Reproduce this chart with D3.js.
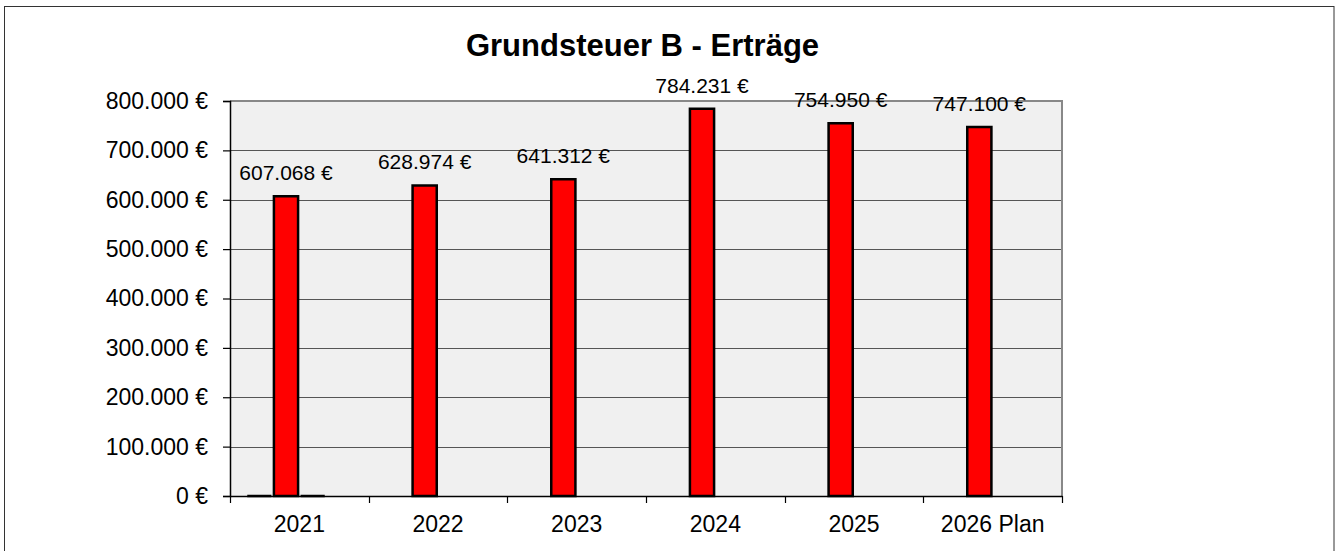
<!DOCTYPE html>
<html>
<head>
<meta charset="utf-8">
<script src="https://cdn.jsdelivr.net/npm/d3@7"></script>
<style>
  body { margin: 0; background: #fff; }
  text { font-family: "Liberation Sans", Arial, sans-serif; fill: #000; }
</style>
</head>
<body>
<div id="chart"></div>
<script>
const width = 1337;
const height = 551;
const plot = { left: 230, right: 1062, top: 101, bottom: 496 };

// data
const years = ["2021", "2022", "2023", "2024", "2025", "2026 Plan"];
const seriesKeys = ["vorjahr", "ertraege", "nebenwert", "leer"];
const ertraege = [607068, 628974, 641312, 784231, 754950, 747100];
const vorjahr = [0, null, null, null, null, null];
const nebenwert = [0, null, null, null, null, null];
const leer = [null, null, null, null, null, null];
const yTicks = [0, 100000, 200000, 300000, 400000, 500000, 600000, 700000, 800000];

const seriesData = { vorjahr, ertraege, nebenwert, leer };

const fmt = (v) => d3.format(",")(v).replace(/,/g, ".") + " €";

const svg = d3.select("#chart")
  .append("svg")
  .attr("width", width)
  .attr("height", height);

// outer frame
svg.append("rect")
  .attr("x", 4.5)
  .attr("y", 6.5)
  .attr("width", 1329.5)
  .attr("height", 560)
  .attr("fill", "#fff")
  .attr("stroke", "#333")
  .attr("stroke-width", 1);

// scales
const x = d3.scaleBand()
  .domain(years)
  .range([plot.left, plot.right])
  .padding(0);

const xInner = d3.scaleBand()
  .domain(seriesKeys)
  .range([0, x.bandwidth()])
  .paddingInner(0)
  .paddingOuter(0.6);

const y = d3.scaleLinear()
  .domain([0, 800000])
  .range([plot.bottom, plot.top]);

// plot background
svg.append("rect")
  .attr("x", plot.left)
  .attr("y", plot.top)
  .attr("width", plot.right - plot.left)
  .attr("height", plot.bottom - plot.top)
  .attr("fill", "#f0f0f0");

// gridlines
svg.append("g")
  .selectAll("line")
  .data(yTicks.slice(1, -1))
  .enter()
  .append("line")
  .attr("x1", plot.left)
  .attr("x2", plot.right)
  .attr("y1", (d) => Math.round(y(d)) + 0.5)
  .attr("y2", (d) => Math.round(y(d)) + 0.5)
  .attr("stroke", "#555")
  .attr("stroke-width", 1);

// plot border top/right
svg.append("path")
  .attr("d", `M${plot.left},${plot.top} H${plot.right} V${plot.bottom}`)
  .attr("fill", "none")
  .attr("stroke", "#888")
  .attr("stroke-width", 2);

// y axis
const yAxis = svg.append("g")
  .attr("transform", `translate(${plot.left},0)`)
  .call(d3.axisLeft(y).tickValues(yTicks).tickFormat(fmt).tickSize(7).tickPadding(15));
yAxis.select(".domain").attr("stroke", "#000").attr("stroke-width", 1.5);
yAxis.selectAll(".tick line").attr("stroke", "#000").attr("stroke-width", 1.2);
yAxis.selectAll("text")
  .style("font-size", "23px")
  .attr("fill", "#000");

// x axis
const xAxis = svg.append("g")
  .attr("transform", `translate(0,${plot.bottom})`)
  .call(d3.axisBottom(x).tickSize(0).tickPadding(20));
xAxis.select(".domain").attr("stroke", "#000").attr("stroke-width", 1.5);
xAxis.selectAll("text")
  .style("font-size", "23px")
  .attr("fill", "#000");

// x tick marks at category boundaries
svg.append("g")
  .selectAll("line")
  .data(years.concat(["end"]))
  .enter()
  .append("line")
  .attr("x1", (d, i) => Math.round(plot.left + i * x.step()) + 0.5)
  .attr("x2", (d, i) => Math.round(plot.left + i * x.step()) + 0.5)
  .attr("y1", plot.bottom)
  .attr("y2", plot.bottom + 7)
  .attr("stroke", "#000")
  .attr("stroke-width", 1.2);

// bars (paths so zero-height bars still show their outline)
const barData = [];
years.forEach((yr, i) => {
  seriesKeys.forEach((k) => {
    const v = seriesData[k][i];
    if (v !== null) barData.push({ year: yr, key: k, value: v });
  });
});

svg.append("g")
  .selectAll("path")
  .data(barData)
  .enter()
  .append("path")
  .attr("d", (d) => {
    const x0 = x(d.year) + xInner(d.key) + 1.25;
    const x1 = x0 + xInner.bandwidth() - 2.5;
    const y0 = y(0);
    const y1 = y(d.value);
    return `M${x0},${y0} V${y1} H${x1} V${y0} Z`;
  })
  .attr("fill", "#ff0000")
  .attr("stroke", "#000")
  .attr("stroke-width", 2.5)
  .attr("stroke-linejoin", "miter");

// value labels
svg.append("g")
  .selectAll("text")
  .data(ertraege)
  .enter()
  .append("text")
  .attr("x", (d, i) => x(years[i]) + xInner("ertraege") + xInner.bandwidth() / 2)
  .attr("y", (d) => y(d) - 16)
  .attr("text-anchor", "middle")
  .style("font-size", "21px")
  .text((d) => fmt(d));

// title
svg.append("text")
  .attr("x", 642.5)
  .attr("y", 56)
  .attr("text-anchor", "middle")
  .style("font-size", "31px")
  .style("font-weight", "bold")
  .text("Grundsteuer B - Erträge");
</script>
</body>
</html>
